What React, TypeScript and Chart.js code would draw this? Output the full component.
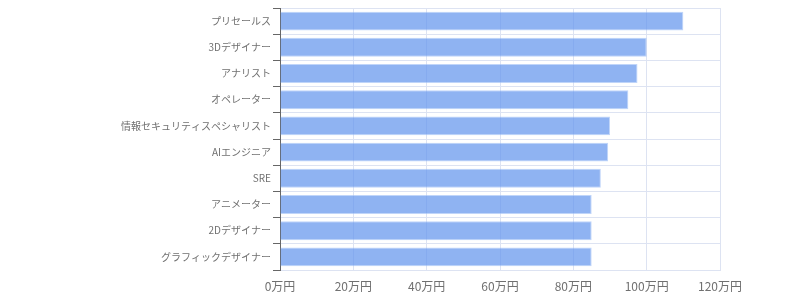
import React, { useEffect, useRef } from "react";
import { Chart, registerables } from "chart.js";

Chart.register(...registerables);

const categories = [
  "プリセールス",
  "3Dデザイナー",
  "アナリスト",
  "オペレーター",
  "情報セキュリティスペシャリスト",
  "AIエンジニア",
  "SRE",
  "アニメーター",
  "2Dデザイナー",
  "グラフィックデザイナー",
];
const salaries = [110, 100, 97.5, 95, 90, 89.5, 87.5, 85, 85, 85];
const xMin = 0;
const xMax = 120;
const xStep = 20;
const unitLabel = "万円";

export default function App() {
  const ref = useRef<HTMLCanvasElement>(null);
  useEffect(() => {
    if (!ref.current) return;
    const family = "'Noto Sans CJK JP', 'Noto Sans', sans-serif";
    const chart = new Chart(ref.current, {
      type: "bar",
      data: {
        labels: categories,
        datasets: [
          {
            data: salaries,
            backgroundColor: "rgba(100,149,237,0.72)",
            borderColor: "rgba(150,185,245,0.6)",
            borderWidth: 1,
          },
        ],
      },
      options: {
        indexAxis: "y",
        animation: false,
        responsive: true,
        maintainAspectRatio: false,
        layout: { padding: { left: 0, right: 80, top: 8, bottom: 0 } },
        plugins: { legend: { display: false }, tooltip: { enabled: false } },
        scales: {
          x: {
            min: xMin,
            max: xMax,
            ticks: {
              stepSize: xStep,
              color: "#707070",
              font: { family, size: 12 },
              padding: 9,
              callback: (v: any) => `${v}${unitLabel}`,
            },
            grid: { color: "#dde3f2", drawTicks: false },
            border: { color: "#dde3f2" },
            afterFit: (s: any) => {
              s.height = 30;
            },
          },
          y: {
            ticks: { color: "#707070", font: { family, size: 10 }, padding: 2 },
            grid: { color: "#dde3f2", tickColor: "#666", tickLength: 7 },
            border: { color: "#666" },
            afterFit: (s: any) => {
              s.width = 280;
            },
          },
        },
      },
    });
    return () => chart.destroy();
  }, []);
  return (
    <div style={{ position: "fixed", left: 0, top: 0, width: 800, height: 300 }}>
      <canvas ref={ref} />
    </div>
  );
}
